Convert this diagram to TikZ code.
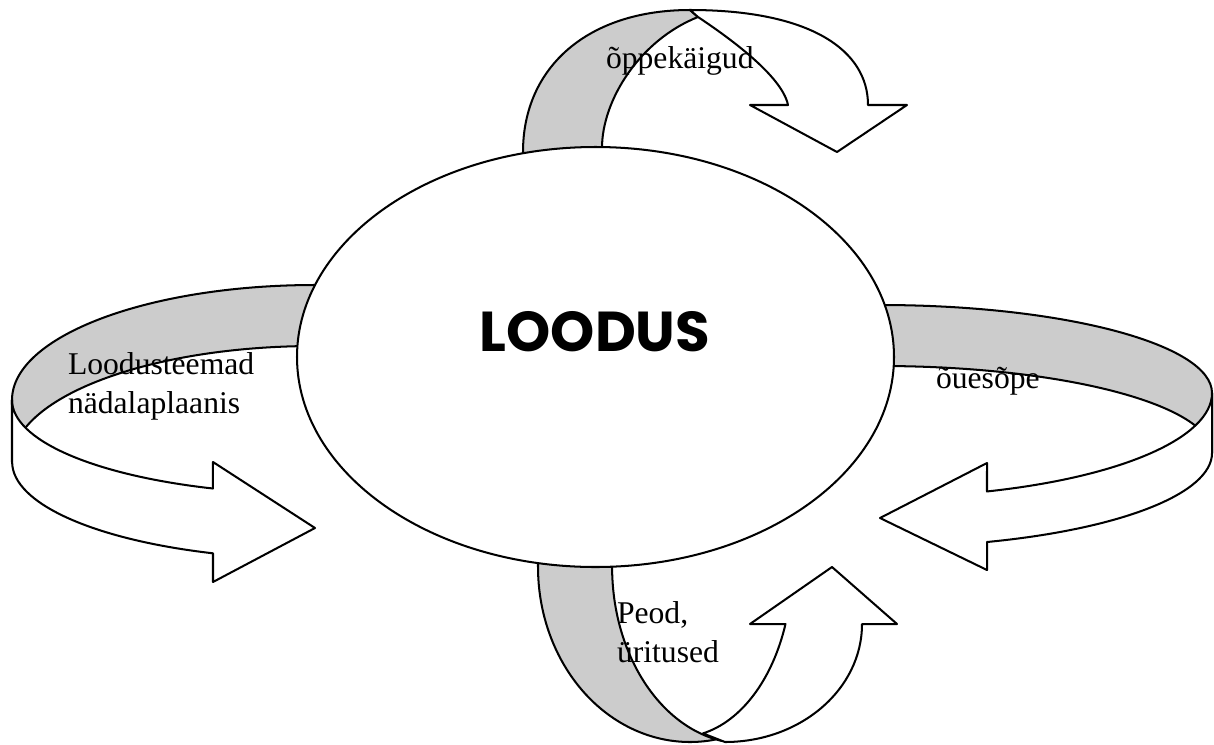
\documentclass[tikz,border=0pt]{standalone}
\usepackage{fontspec}
\setmainfont{Liberation Serif}
\newfontfamily\comicfont{Poppins}
\definecolor{backside}{gray}{0.8}

\begin{document}
\begin{tikzpicture}[x=0.2mm,y=-0.2mm,line width=1.15pt,line join=round,
    back/.style={draw=black,fill=backside},
    front/.style={draw=black,fill=white},
    lbl/.style={anchor=base west,inner sep=0pt,align=left,font=\fontsize{18}{21.8}\selectfont}]
  \useasboundingbox (0,0) rectangle (1214,744);

  % top arrow
  \draw[back] (523,160) -- (523,152) .. controls (523,67) and (588,10) .. (690,10)
      -- (698,17) .. controls (640,40) and (602,100) .. (602,148) -- (602,160) -- cycle;
  \draw[front] (690,10) .. controls (810,10) and (868,50) .. (868,105) -- (907,105)
      -- (837,152) -- (750,105) -- (788,105) .. controls (782,75) and (725,35) .. (698,17) -- cycle;

  % left arrow
  \draw[back] (330,285) -- (315,285) arc[start angle=270,end angle=180,x radius=303,y radius=115]
      -- (12,462) arc[start angle=180,end angle=270,x radius=303,y radius=116] -- (330,346) -- cycle;
  \draw[front] (12,400) arc[start angle=180,end angle=109.7,x radius=303,y radius=94]
      -- (213,462) -- (315,528) -- (213,582) -- (213,553.3)
      arc[start angle=109.7,end angle=180,x radius=303,y radius=97] -- cycle;

  % right arrow
  \draw[back] (865,305) -- (880,305) arc[start angle=270,end angle=360,x radius=332,y radius=88]
      -- (1212,453) arc[start angle=360,end angle=270,x radius=332,y radius=87] -- (865,366) -- cycle;
  \draw[front] (1212,393) arc[start angle=0,end angle=71.2,x radius=332,y radius=104]
      -- (987,463) -- (880,518) -- (987,570) -- (987,542)
      arc[start angle=71.2,end angle=0,x radius=332,y radius=94] -- cycle;

  % bottom arrow
  \draw[back] (538,555) -- (538,567) arc[start angle=180,end angle=80,x radius=152,y radius=175]
      -- (722,741) arc[start angle=100,end angle=180,x radius=133,y radius=177] -- (612,555) -- cycle;
  \draw[front] (703,733.4) -- (725,742) arc[start angle=90,end angle=0,x radius=137,y radius=118]
      -- (897,624) -- (832,567) -- (750,624) -- (785.5,624)
      arc[start angle=19.6,end angle=78.2,x radius=112,y radius=170] -- cycle;

  % middle
  \draw[fill=white] (595.5,357) ellipse[x radius=298.5,y radius=210];
  \node[font=\comicfont\bfseries\fontsize{32}{38}\selectfont,anchor=base,inner sep=0pt] (loodus) at (595,351) {LOODUS};

  \node[lbl] (oppekaigud) at (605,68) {õppekäigud};
  \node[lbl] (teemad) at (67,413) {Loodusteemad\\nädalaplaanis};
  \node[lbl] (ouesope) at (935,388) {õuesõpe};
  \node[lbl] (peod) at (616,662) {Peod,\\üritused};
\end{tikzpicture}
\end{document}
